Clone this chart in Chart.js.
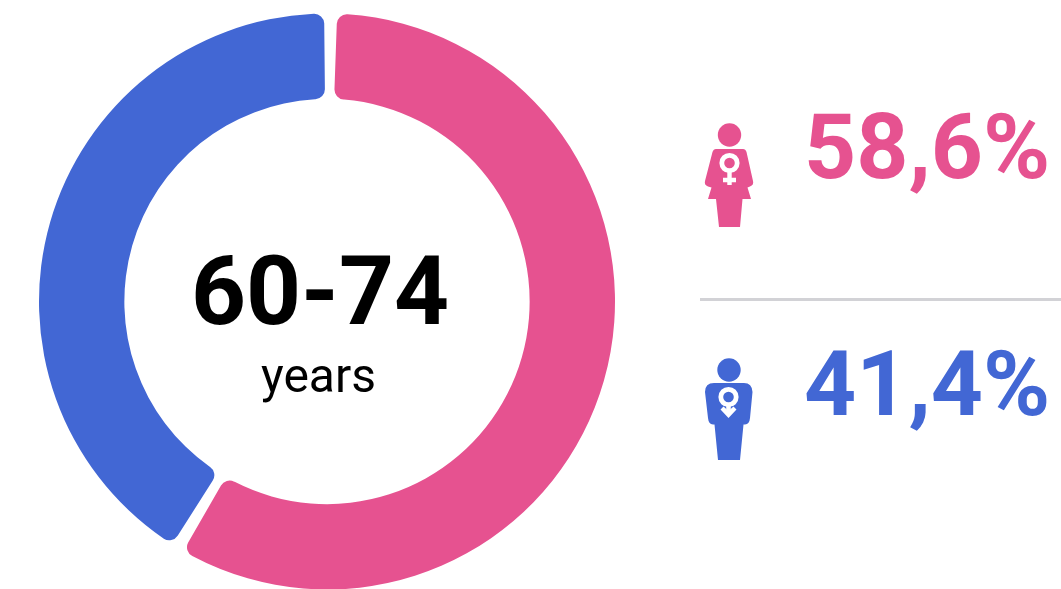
<!DOCTYPE html>
<html><head><meta charset="utf-8">
<script src="https://cdn.jsdelivr.net/npm/chart.js@4"></script>
<style>
html,body{margin:0;padding:0;background:#fff;width:1061px;height:589px;overflow:hidden}
body{position:relative;font-family:Roboto,sans-serif}
#wrap{position:absolute;left:0;top:0;width:1061px;height:590px}
.t{position:absolute;line-height:1;white-space:nowrap}
#range{left:320px;top:242.5px;font-size:96px;font-weight:700;color:#000;transform:translateX(-50%)}
#unit{left:318.5px;top:352px;font-size:48px;color:#000;transform:translateX(-50%)}
#pf{left:804px;top:101.5px;font-size:91px;font-weight:700;color:#E65290}
#pm{left:804px;top:338.5px;font-size:91px;font-weight:700;color:#4267D4}
#rule{position:absolute;left:700px;top:298px;width:361px;height:3px;background:#D2D2D6}
svg{position:absolute;left:0;top:0}
</style></head><body>
<div id="wrap"><canvas id="c"></canvas></div>
<div class="t" id="range"></div><div class="t" id="unit"></div>
<div class="t" id="pf"></div><div class="t" id="pm"></div>
<div id="rule"></div>
<svg width="1061" height="589" viewBox="0 0 1061 589">
 <g fill="#E65290">
  <circle cx="729.5" cy="135" r="11.7"/>
  <path d="M716 149H743Q745.5 149 746.5 152L753 181Q754 185 750 186.5L747.5 187.5L751 199H742.5L740 227H719L716 199H708L711.5 187.5L708 186.5Q704 185 705 181L712.5 152Q713.5 149 716 149Z"/>
 </g>
 <g fill="none" stroke="#fff">
  <circle cx="729.5" cy="163" r="7.7" stroke-width="4.8"/>
  <path d="M729.5 170V185M723 180H736" stroke-width="4.4"/>
 </g>
 <g fill="#4267D4">
  <circle cx="729" cy="370" r="11.7"/>
  <path d="M714 383H744Q752 383 752.5 392L750 418Q749.5 424 745 424.5H743.5L740 460H718L714.5 424.5H713Q708.5 424 708 418L705 392Q705 383 714 383Z"/>
 </g>
 <g fill="none" stroke="#fff">
  <circle cx="728.5" cy="397" r="7.7" stroke-width="4.8"/>
  <path d="M728.5 404V413" stroke-width="4.6"/>
 </g>
 <path d="M720.5 409.5L728.5 418L736.5 409.5L733.5 406.5L728.5 411L723.5 406.5Z" fill="#fff"/>
</svg>
<script>
const categories=["Women","Men"];
const shares=[58.6,41.4];
const shareLabels=["58,6%","41,4%"];
const colors=["#E65290","#4267D4"];
const rangeLabel="60-74";
const unitLabel="years";
document.getElementById('range').textContent=rangeLabel;
document.getElementById('unit').textContent=unitLabel;
document.getElementById('pf').textContent=shareLabels[0];
document.getElementById('pm').textContent=shareLabels[1];
new Chart(document.getElementById('c'),{
 type:'doughnut',
 data:{labels:categories,datasets:[{data:shares,backgroundColor:colors,borderWidth:0,borderRadius:10,spacing:7}]},
 options:{responsive:true,maintainAspectRatio:false,animation:false,rotation:0.5,cutout:'70%',
  layout:{padding:{left:39,right:446,top:13,bottom:0}},
  plugins:{legend:{display:false},tooltip:{enabled:false}}}
});
</script>
</body></html>
